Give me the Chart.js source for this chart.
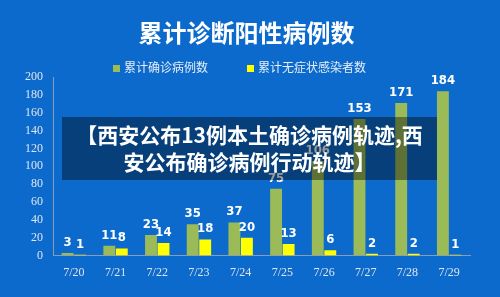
<!DOCTYPE html>
<html lang="zh">
  <head>
    <meta charset="UTF-8">
    <script src="https://cdn.jsdelivr.net/npm/chart.js"></script>
    <title>累计诊断阳性病例数</title>
    <style>
      html, body { margin: 0; padding: 0; background: #0b6acb; }
      #wrap { position: relative; width: 500px; height: 297px; overflow: hidden; }
      #title {
        position: absolute; left: 0; top: 16px; width: 493px; text-align: center;
        font-family: "Noto Sans CJK SC", sans-serif; font-weight: bold; font-size: 24px;
        line-height: 32px; color: #fff;
      }
      #legend {
        position: absolute; left: 0; top: 58px; width: 500px; height: 18px;
        font-family: "Noto Sans CJK SC", sans-serif; font-size: 12px; line-height: 18px;
        color: #e8eef8;
      }
      #legend span { position: absolute; top: 0; white-space: nowrap; }
      #legend i { display: inline-block; width: 7px; height: 7px; margin-right: 4px; vertical-align: 0; }
      #overlay {
        position: absolute; left: 62px; top: 117px; width: 375px; height: 63px;
        background: rgba(0, 0, 0, 0.4); color: #fff;
        font-family: "Noto Sans CJK SC", sans-serif; font-weight: bold;
        font-size: 21px; line-height: 27px; text-align: center;
        padding-top: 4px; box-sizing: border-box; white-space: nowrap;
      }
    </style>
  </head>
  <body>
    <div id="wrap">
      <canvas id="myChart" width="500" height="297"></canvas>
      <div id="title"></div>
      <div id="legend"></div>
      <div id="overlay">【西安公布13例本土确诊病例轨迹,西<br>安公布确诊病例行动轨迹】</div>
    </div>
    <script>
        const chartTitle = '累计诊断阳性病例数';
        const dates = ['7/20', '7/21', '7/22', '7/23', '7/24', '7/25', '7/26', '7/27', '7/28', '7/29'];
        const confirmed = [3, 11, 23, 35, 37, 75, 106, 153, 171, 184];
        const asymptomatic = [1, 8, 14, 18, 20, 13, 6, 2, 2, 1];
        const yTicks = [0, 20, 40, 60, 80, 100, 120, 140, 160, 180, 200];

        // numbers above the bars
        const barLabels = {
          id: 'barLabels',
          afterDatasetsDraw(chart) {
            const c = chart.ctx;
            c.save();
            c.fillStyle = '#fff';
            c.font = 'bold 13px "Liberation Sans Narrow", "DejaVu Sans Condensed", sans-serif';
            c.textAlign = 'center';
            c.textBaseline = 'bottom';
            chart.data.datasets.forEach((ds, i) => {
              chart.getDatasetMeta(i).data.forEach((bar, j) => {
                c.fillText(ds.data[j], bar.x, bar.y - 4);
              });
            });
            c.restore();
          }
        };

        const chart = new Chart(document.getElementById('myChart'), {
          type: 'bar',
          data: {
            labels: dates,
            datasets: [{
              label: '累计确诊病例数',
              data: confirmed,
              backgroundColor: '#9bbb59',
              categoryPercentage: 0.6,
              barPercentage: 0.95
            }, {
              label: '累计无症状感染者数',
              data: asymptomatic,
              backgroundColor: '#ffff00',
              categoryPercentage: 0.6,
              barPercentage: 0.95
            }]
          },
          options: {
            responsive: false,
            animation: false,
            layout: { padding: { left: 0, right: 30, top: 77, bottom: 7 } },
            plugins: {
              legend: { display: false },
              tooltip: { enabled: false }
            },
            scales: {
              x: {
                grid: { display: false, drawTicks: false },
                border: { color: '#8a9bb8' },
                ticks: { color: '#e0e6f0', padding: 10, font: { family: '"Liberation Serif"', size: 12 } }
              },
              y: {
                min: 0,
                max: 200,
                afterBuildTicks: s => { s.ticks = yTicks.map(v => ({ value: v })); },
                afterFit: s => { s.width = 53; },
                grid: { display: false, drawTicks: false },
                border: { color: '#8a9bb8' },
                ticks: { color: '#e0e6f0', padding: 10, autoSkip: false, font: { family: '"Liberation Serif"', size: 12 } }
              }
            }
          },
          plugins: [barLabels]
        });

        document.getElementById('title').textContent = chartTitle;
        // legend, spaced like the original
        const legendX = [113, 247];
        document.getElementById('legend').innerHTML = chart.data.datasets.map((ds, i) =>
          '<span style="left:' + legendX[i] + 'px"><i style="background:' + ds.backgroundColor + '"></i>' + ds.label + '</span>'
        ).join('');
    </script>
  </body>
</html>
